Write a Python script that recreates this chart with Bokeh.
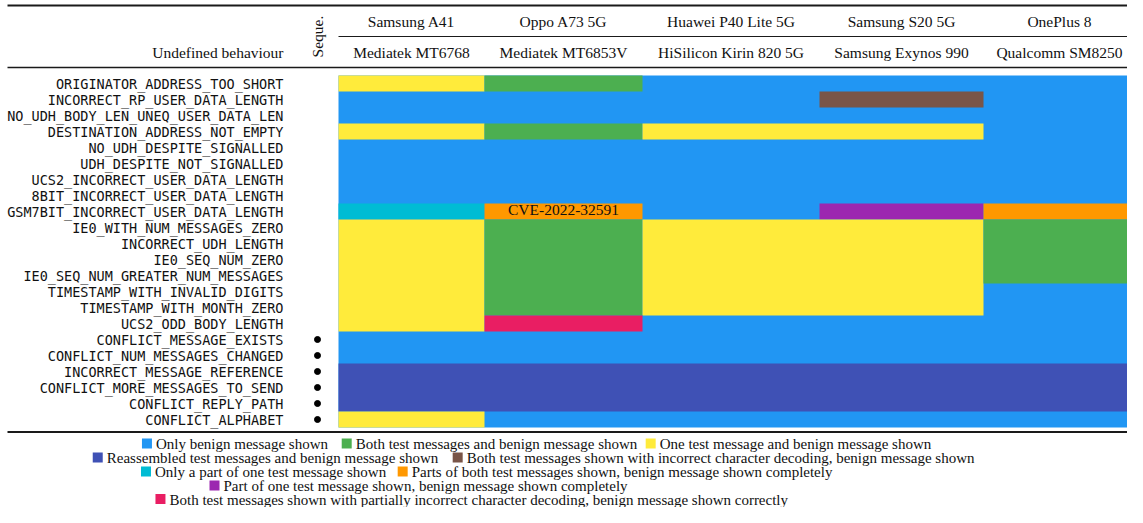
import math
from collections import Counter
from bokeh.plotting import figure
from bokeh.models import ColumnDataSource, Range1d
from bokeh.core.properties import value
from bokeh.embed import file_html
from bokeh.resources import INLINE

# ---------------- data ----------------
BEHAVIOURS = [
    "ORIGINATOR_ADDRESS_TOO_SHORT",
    "INCORRECT_RP_USER_DATA_LENGTH",
    "NO_UDH_BODY_LEN_UNEQ_USER_DATA_LEN",
    "DESTINATION_ADDRESS_NOT_EMPTY",
    "NO_UDH_DESPITE_SIGNALLED",
    "UDH_DESPITE_NOT_SIGNALLED",
    "UCS2_INCORRECT_USER_DATA_LENGTH",
    "8BIT_INCORRECT_USER_DATA_LENGTH",
    "GSM7BIT_INCORRECT_USER_DATA_LENGTH",
    "IE0_WITH_NUM_MESSAGES_ZERO",
    "INCORRECT_UDH_LENGTH",
    "IE0_SEQ_NUM_ZERO",
    "IE0_SEQ_NUM_GREATER_NUM_MESSAGES",
    "TIMESTAMP_WITH_INVALID_DIGITS",
    "TIMESTAMP_WITH_MONTH_ZERO",
    "UCS2_ODD_BODY_LENGTH",
    "CONFLICT_MESSAGE_EXISTS",
    "CONFLICT_NUM_MESSAGES_CHANGED",
    "INCORRECT_MESSAGE_REFERENCE",
    "CONFLICT_MORE_MESSAGES_TO_SEND",
    "CONFLICT_REPLY_PATH",
    "CONFLICT_ALPHABET",
]
SEQUENTIAL = [False] * 16 + [True] * 6

DEVICES = ["Samsung A41", "Oppo A73 5G", "Huawei P40 Lite 5G", "Samsung S20 5G", "OnePlus 8"]
CHIPSETS = ["Mediatek MT6768", "Mediatek MT6853V", "HiSilicon Kirin 820 5G",
            "Samsung Exynos 990", "Qualcomm SM8250"]

# outcome codes per device, one per behaviour (row order above)
SAMSUNG_A41 = ["Y", "B", "B", "Y", "B", "B", "B", "B", "C", "Y", "Y", "Y", "Y", "Y", "Y", "Y",
               "B", "B", "R", "R", "R", "Y"]
OPPO_A73 = ["G", "B", "B", "G", "B", "B", "B", "B", "O", "G", "G", "G", "G", "G", "G", "K",
            "B", "B", "R", "R", "R", "B"]
HUAWEI_P40 = ["B", "B", "B", "Y", "B", "B", "B", "B", "B", "Y", "Y", "Y", "Y", "Y", "Y", "B",
              "B", "B", "R", "R", "R", "B"]
SAMSUNG_S20 = ["B", "W", "B", "Y", "B", "B", "B", "B", "P", "Y", "Y", "Y", "Y", "Y", "Y", "B",
               "B", "B", "R", "R", "R", "B"]
ONEPLUS_8 = ["B", "B", "B", "B", "B", "B", "B", "B", "O", "G", "G", "G", "G", "B", "B", "B",
             "B", "B", "R", "R", "R", "B"]
DEVICE_RESULTS = [SAMSUNG_A41, OPPO_A73, HUAWEI_P40, SAMSUNG_S20, ONEPLUS_8]

OUTCOME_KEYS = ["B", "G", "Y", "R", "W", "C", "O", "P", "K"]
OUTCOME_LABELS = [
    "Only benign message shown",
    "Both test messages and benign message shown",
    "One test message and benign message shown",
    "Reassembled test messages and benign message shown",
    "Both test messages shown with incorrect character decoding, benign message shown",
    "Only a part of one test message shown",
    "Parts of both test messages shown, benign message shown completely",
    "Part of one test message shown, benign message shown completely",
    "Both test messages shown with partially incorrect character decoding, benign message shown correctly",
]
OUTCOME_COLORS = ["#2196F3", "#4CAF50", "#FFEB3B", "#3F51B5", "#795548",
                  "#00BCD4", "#FF9800", "#9C27B0", "#E91E63"]

ANNOTATIONS = [("GSM7BIT_INCORRECT_USER_DATA_LENGTH", "Oppo A73 5G", "CVE-2022-32591")]

# ---------------- layout (pixels) ----------------
W, H = 1127, 507
COL_EDGES = [338, 484, 642, 819, 983, 1143]
ROW_TOP, ROW_H = 75, 16
SERIF = value("Liberation Serif")
MONO = value("DejaVu Sans Mono")
TXT = "#111111"


def ypx(px):
    return (px - ROW_TOP - ROW_H / 2) / ROW_H


p = figure(width=W, height=H, output_backend="svg", toolbar_location=None,
           x_range=Range1d(0, W), y_range=Range1d(ypx(H), ypx(0)),
           x_axis_location=None, y_axis_location=None, min_border=0)
p.grid.visible = False
p.outline_line_color = None
p.background_fill_color = "white"
p.border_fill_color = "white"

# cells: the most frequent outcome forms the base layer, the others are
# merged into blocks of equal neighbouring cells (avoids hairline seams)
color_of = dict(zip(OUTCOME_KEYS, OUTCOME_COLORS))
n_rows, n_cols = len(BEHAVIOURS), len(DEVICES)
base_code = Counter(c for col in DEVICE_RESULTS for c in col).most_common(1)[0][0]
p.quad(left=[COL_EDGES[0]], right=[COL_EDGES[n_cols]], top=[-0.5], bottom=[n_rows - 0.5],
       fill_color=color_of[base_code], line_color=None)

blocks, active = [], {}
for i in range(n_rows):
    runs, j = [], 0
    while j < n_cols:
        code = DEVICE_RESULTS[j][i]
        k = j
        while k + 1 < n_cols and DEVICE_RESULTS[k + 1][i] == code:
            k += 1
        runs.append((j, k, code))
        j = k + 1
    new_active = {}
    for run in runs:
        if run in active:
            blk = active[run]
            blk["i1"] = i
        else:
            blk = {"j0": run[0], "j1": run[1], "code": run[2], "i0": i, "i1": i}
            blocks.append(blk)
        new_active[run] = blk
    active = new_active
blocks = [b for b in blocks if b["code"] != base_code]

src = ColumnDataSource(dict(
    left=[COL_EDGES[b["j0"]] for b in blocks],
    right=[COL_EDGES[b["j1"] + 1] for b in blocks],
    top=[b["i0"] - 0.5 for b in blocks],
    bottom=[b["i1"] + 0.5 for b in blocks],
    fill=[color_of[b["code"]] for b in blocks],
))
p.quad(left="left", right="right", top="top", bottom="bottom", fill_color="fill",
       line_color=None, source=src)

# row labels
p.text(x=[283] * n_rows, y=list(range(n_rows)), text=BEHAVIOURS,
       text_align="right", text_baseline="middle", text_font=MONO,
       text_font_size="13.5px", text_color=TXT)

# sequential markers
seq_rows = [i for i, s in enumerate(SEQUENTIAL) if s]
p.scatter(x=[317] * len(seq_rows), y=seq_rows, size=6, marker="circle",
          fill_color="black", line_color="black")

# header
centers = [(COL_EDGES[j] + COL_EDGES[j + 1]) / 2 for j in range(n_cols)]
centers[-1] = 1059
p.text(x=centers, y=[ypx(21)] * n_cols, text=DEVICES, text_align="center",
       text_baseline="middle", text_font=SERIF, text_font_size="15.5px", text_color=TXT)
p.text(x=centers, y=[ypx(52)] * n_cols, text=CHIPSETS, text_align="center",
       text_baseline="middle", text_font=SERIF, text_font_size="15.5px", text_color=TXT)
p.text(x=[283], y=[ypx(52)], text=["Undefined behaviour"], text_align="right",
       text_baseline="middle", text_font=SERIF, text_font_size="15.5px", text_color=TXT)
p.text(x=[317], y=[ypx(36)], text=["Seque."], angle=math.pi / 2, text_align="center",
       text_baseline="middle", text_font=SERIF, text_font_size="15.5px", text_color=TXT)

# annotations
for beh, dev, label in ANNOTATIONS:
    i = BEHAVIOURS.index(beh)
    j = DEVICES.index(dev)
    p.text(x=[(COL_EDGES[j] + COL_EDGES[j + 1]) / 2], y=[i - 2 / ROW_H], text=[label],
           text_align="center", text_baseline="middle", text_font=SERIF,
           text_font_size="15.5px", text_color=TXT)

# table rules
rules = [(7, 1127, 5, 2.0), (338, 1127, 36, 1.0), (7, 1127, 67, 1.3), (7, 1127, 431.5, 2.0)]
for x0, x1, y, lw in rules:
    p.segment(x0=[x0], y0=[ypx(y)], x1=[x1], y1=[ypx(y)], line_width=lw, line_color="#1a1a1a")

# legend (slightly compressed so that it fits the page)
LEG_FS = 15
scale = 0.965


def sx(x):
    return 540 + (x - 540) * scale


legend_rows = [([0, 1, 2], [127, 334, 649], 443.5),
               ([3, 4], [76, 449], 457.5),
               ([5, 6], [126, 392], 471.5),
               ([7], [197], 485.5),
               ([8], [141], 499.0)]
for items, xs, ypos in legend_rows:
    p.scatter(x=[sx(x) + 5 for x in xs], y=[ypx(ypos - 0.5)] * len(xs), marker="square",
              size=10, fill_color=[OUTCOME_COLORS[k] for k in items], line_color=None)
    p.text(x=[sx(x) + 14 for x in xs], y=[ypx(ypos)] * len(xs),
           text=[OUTCOME_LABELS[k] for k in items], text_align="left", text_baseline="middle",
           text_font=SERIF, text_font_size=f"{LEG_FS}px", text_color=TXT)

open("out.html", "w").write(file_html(p, INLINE))
